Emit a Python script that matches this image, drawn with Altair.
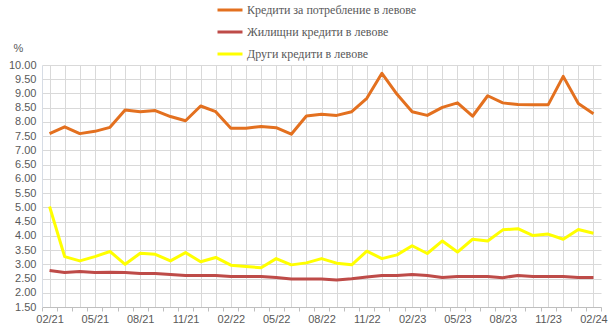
import altair as alt
import pandas as pd

months = ["02/21", "03/21", "04/21", "05/21", "06/21", "07/21", "08/21", "09/21", "10/21", "11/21", "12/21",
          "01/22", "02/22", "03/22", "04/22", "05/22", "06/22", "07/22", "08/22", "09/22", "10/22", "11/22", "12/22",
          "01/23", "02/23", "03/23", "04/23", "05/23", "06/23", "07/23", "08/23", "09/23", "10/23", "11/23", "12/23",
          "01/24", "02/24"]

consumer = [7.59, 7.83, 7.59, 7.67, 7.81, 8.42, 8.36, 8.40, 8.19, 8.04, 8.56, 8.36, 7.78, 7.78, 7.84, 7.80, 7.57,
            8.21, 8.27, 8.23, 8.36, 8.83, 9.71, 8.97, 8.36, 8.23, 8.51, 8.67, 8.20, 8.92, 8.67, 8.61, 8.60, 8.60,
            9.60, 8.65, 8.29]
housing = [2.78, 2.71, 2.75, 2.71, 2.72, 2.71, 2.68, 2.68, 2.64, 2.61, 2.61, 2.61, 2.57, 2.57, 2.57, 2.54, 2.48,
           2.48, 2.48, 2.45, 2.49, 2.55, 2.61, 2.61, 2.64, 2.61, 2.54, 2.57, 2.57, 2.57, 2.53, 2.61, 2.57, 2.57,
           2.57, 2.54, 2.54]
other = [5.03, 3.27, 3.12, 3.27, 3.45, 3.00, 3.39, 3.35, 3.12, 3.41, 3.09, 3.24, 2.97, 2.92, 2.88, 3.20, 2.98,
         3.05, 3.20, 3.04, 2.98, 3.46, 3.20, 3.33, 3.65, 3.38, 3.82, 3.43, 3.88, 3.82, 4.21, 4.25, 4.01, 4.06,
         3.88, 4.22, 4.09]

series_names = ["Кредити за потребление в левове", "Жилищни кредити в левове", "Други кредити в левове"]
series_colors = ["#E3701F", "#BE4B48", "#FFFF00"]

rows = []
for name, vals in zip(series_names, [consumer, housing, other]):
    for i, v in enumerate(vals):
        rows.append({"series": name, "idx": i, "month": months[i], "value": v})
df = pd.DataFrame(rows)

label_arr = "[" + ",".join("'" + m + "'" for m in months) + "]"
tick_values = [i * 0.5 - 0.5 for i in range(2 * len(months) + 1)]

grey = "#595959"
font = "Liberation Sans"

x_axis = alt.Axis(
    values=tick_values,
    title=None,
    labelExpr=f"(datum.value % 3 === 0 && datum.value >= 0) ? {label_arr}[datum.value] : ''",
    labelFont=font, labelFontSize=11, labelColor=grey, labelPadding=2,
    labelOverlap=False, labelFlush=False,
    grid=True, gridColor="#D9D9D9", gridWidth=1,
    gridOpacity={"condition": {"test": "datum.value % 1 === 0", "value": 1}, "value": 0},
    ticks=True, tickColor="#BFBFBF", tickSize=4,
    tickOpacity={"condition": {"test": "datum.value % 1 === 0", "value": 0}, "value": 1},
    domainColor="#BFBFBF",
)

y_axis = alt.Axis(
    values=[1.5 + 0.5 * k for k in range(18)],
    format=".2f",
    title="%", titleAngle=0, titleX=-24, titleY=-12, titleAlign="center",
    titleFont=font, titleFontSize=11, titleFontWeight="normal", titleColor=grey,
    labelFont=font, labelFontSize=11, labelColor=grey, labelPadding=6,
    grid=True, gridColor="#D9D9D9", gridWidth=1,
    ticks=False, domainColor="#D6DCE5",
)

chart = alt.Chart(df).mark_line(strokeWidth=3, strokeJoin="round").encode(
    x=alt.X("idx:Q", scale=alt.Scale(domain=[-0.5, len(months) - 0.5], nice=False, zero=False), axis=x_axis),
    y=alt.Y("value:Q", scale=alt.Scale(domain=[1.5, 10], nice=False, zero=False), axis=y_axis),
    color=alt.Color(
        "series:N",
        scale=alt.Scale(domain=series_names, range=series_colors),
        sort=series_names,
        legend=alt.Legend(
            title=None, orient="none", legendX=174, legendY=-69, direction="vertical",
            symbolType="stroke", symbolStrokeWidth=3, symbolSize=625,
            labelFont="Liberation Sans Narrow", labelFontSize=12, labelColor=grey,
            labelOffset=3, rowPadding=2, labelLimit=400,
        ),
    ),
).properties(
    width=559, height=242,
    autosize="none",
    padding={"left": 42, "top": 65, "right": 13, "bottom": 23},
).configure_view(stroke=None)

chart.save("out.html", embed_options={"renderer": "svg", "actions": False})
